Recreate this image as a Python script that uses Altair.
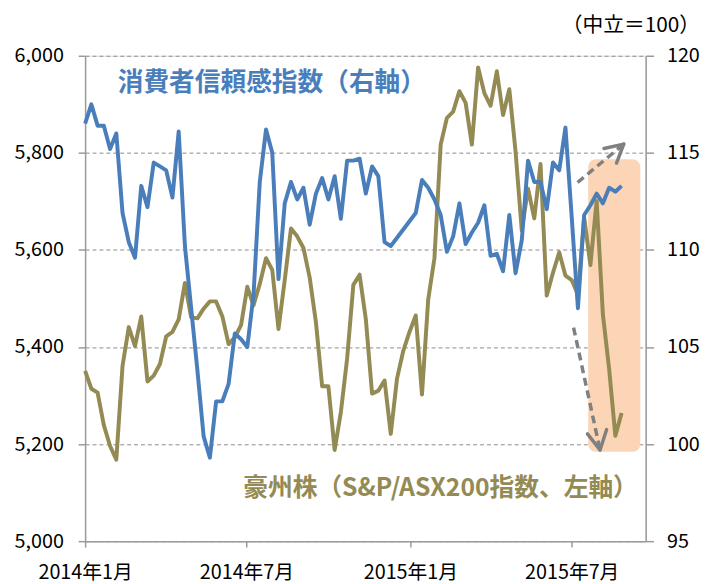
import altair as alt
import pandas as pd

# ---- data (weekly, starting 2014-01-01) ----
week_start = "2014-01-01"
n_weeks = 87

# Consumer confidence index (right axis, neutral = 100); None = no survey (holiday break)
confidence = [116.5, 117.5, 116.4, 116.4, 115.2, 116.0, 111.9, 110.4, 109.6, 113.3,
              112.2, 114.5, 114.3, 114.1, 112.7, 116.1, 110.2, 107.0, 103.8, 100.4,
              99.3, 102.2, 102.2, 103.1, 105.7, 105.4, 105.0, 107.7, 113.5, 116.2,
              115.0, 108.5, 112.4, 113.5, 112.6, 113.2, 111.3, 112.9, 113.7, 112.6,
              113.8, 111.6, 114.6, 114.6, 114.7, 112.9, 114.3, 113.8, 110.4, 110.2,
              None, None, None, 111.9, 113.6, 113.2, 112.6, 111.8, 109.9, 110.7,
              112.4, 110.3, 110.9, 111.4, 112.3, 109.7, 109.8, 108.9, 111.8, 108.8,
              110.5, 114.6, 113.5, 113.5, 112.1, 114.5, 114.1, 116.3, 111.7, 107.0,
              111.8, 112.3, 112.9, 112.4, 113.2, 113.0, 113.3]

# S&P/ASX200 index (left axis)
asx200 = [5351, 5314, 5306, 5239, 5196, 5168, 5361, 5441, 5402, 5463,
          5329, 5341, 5365, 5422, 5431, 5457, 5532, 5461, 5459, 5479,
          5494, 5494, 5463, 5406, 5420, 5445, 5524, 5486, 5530, 5583,
          5559, 5437, 5538, 5644, 5628, 5604, 5543, 5451, 5319, 5319,
          5188, 5266, 5376, 5528, 5549, 5457, 5304, 5310, 5331, 5221,
          5335, 5392, 5431, 5465, 5302, 5498, 5583, 5817, 5872, 5885,
          5927, 5903, 5817, 5976, 5923, 5897, 5968, 5878, 5931, 5803,
          5640, 5726, 5665, 5777, 5506, 5553, 5595, 5547, 5538, 5508,
          5667, 5569, 5701, 5467, 5355, 5217, 5264]

tick_dates = ["2014-01-01", "2014-07-01", "2015-01-01", "2015-07-01"]
tick_labels = ["2014年1月", "2014年7月", "2015年1月", "2015年7月"]
axis_end_date = "2015-09-22"

left_ticks = [5000, 5200, 5400, 5600, 5800, 6000]
right_ticks = [95, 100, 105, 110, 115, 120]

blue_label = "消費者信頼感指数（右軸）"
olive_label = "豪州株（S&P/ASX200指数、左軸）"
unit_label = "（中立＝100）"

# annotations (x in days since start, y in left-axis units)
highlight = {"x0": 564.5, "x1": 623.0, "y0": 5184, "y1": 5787}
arrow_lines = [
    {"x0": 552.6, "y0": 5739, "x1": 604.4, "y1": 5818},
    {"x0": 548.1, "y0": 5440, "x1": 577.8, "y1": 5188},
]
arrow_heads = [
    {"x0": 582.2, "y0": 5809, "x1": 604.4, "y1": 5818},
    {"x0": 596.3, "y0": 5779, "x1": 604.4, "y1": 5818},
    {"x0": 563.7, "y0": 5221, "x1": 577.8, "y1": 5188},
    {"x0": 585.2, "y0": 5230, "x1": 577.8, "y1": 5188},
]

BLUE = "#4a7ebb"
OLIVE = "#948a54"
GRAY = "#9a9a9a"
FONT = "Noto Sans CJK JP"

# ---- build tables ----
start = pd.Timestamp(week_start)
weeks = pd.date_range(week_start, periods=n_weeks, freq="7D")
days = [(d - start).days for d in weeks]
df = pd.DataFrame({"day": days, "confidence": confidence, "asx200": asx200})
df_conf = df.dropna(subset=["confidence"])

tick_days = [(pd.Timestamp(d) - start).days for d in tick_dates]
x_end = (pd.Timestamp(axis_end_date) - start).days
label_expr = " : ".join(
    f"datum.value == {d} ? '{l}'" for d, l in zip(tick_days, tick_labels)
) + " : ''"

x_scale = alt.Scale(domain=[0, x_end], nice=False, zero=False)
x_axis = alt.Axis(values=tick_days, labelExpr=label_expr, title=None, grid=False,
                  domainColor=GRAY, domainWidth=1.5, tickColor=GRAY, tickWidth=1.5,
                  tickSize=6, labelPadding=16, labelFontSize=20, labelFont=FONT,
                  labelColor="#000000", labelFlush=False)
yl_scale = alt.Scale(domain=[5000, 6000], nice=False, zero=False)
yl_axis = alt.Axis(values=left_ticks, format=",d", title=None, grid=True,
                   gridDash=[4, 3], gridColor="#8c8c8c", gridWidth=1,
                   domainColor=GRAY, domainWidth=1.5, tickColor=GRAY, tickWidth=1.5,
                   tickSize=7, labelPadding=15, labelFontSize=20, labelFont=FONT,
                   labelColor="#000000")
yr_axis = alt.Axis(values=right_ticks, orient="right", title=None, grid=False,
                   domainColor=GRAY, domainWidth=1.5, tickColor=GRAY, tickWidth=1.5,
                   tickSize=8, labelPadding=13, labelFontSize=20, labelFont=FONT,
                   labelColor="#000000")


def X(field):
    return alt.X(field, type="quantitative", scale=x_scale, axis=x_axis)


def YL(field):
    return alt.Y(field, type="quantitative", scale=yl_scale, axis=yl_axis)


rect = alt.Chart(pd.DataFrame([highlight])).mark_rect(
    color="#fbd5b5", cornerRadius=8
).encode(x=X("x0"), x2="x1", y=YL("y0"), y2="y1")

olive = alt.Chart(df).mark_line(color=OLIVE, strokeWidth=4, strokeJoin="round").encode(
    x=X("day"), y=YL("asx200")
)

arrows = alt.Chart(pd.DataFrame(arrow_lines)).mark_rule(
    color="#808080", strokeWidth=3.5, strokeDash=[8, 5]
).encode(x=X("x0"), x2="x1", y=YL("y0"), y2="y1")

heads = alt.Chart(pd.DataFrame(arrow_heads)).mark_rule(
    color="#808080", strokeWidth=3.5, strokeCap="round"
).encode(x=X("x0"), x2="x1", y=YL("y0"), y2="y1")

blue_text = alt.Chart(pd.DataFrame({"t": [blue_label]})).mark_text(
    align="left", baseline="middle", fontSize=26, fontWeight="bold", font=FONT, color=BLUE
).encode(text="t:N", x=alt.value(33), y=alt.value(28))

olive_text = alt.Chart(pd.DataFrame({"t": [olive_label]})).mark_text(
    align="left", baseline="middle", fontSize=25, fontWeight="bold", font=FONT, color=OLIVE
).encode(text="t:N", x=alt.value(160), y=alt.value(437))

unit_text = alt.Chart(pd.DataFrame({"t": [unit_label]})).mark_text(
    align="right", baseline="middle", fontSize=21, font=FONT, color="#000000"
).encode(text="t:N", x=alt.value(622), y=alt.value(-30))

left_group = alt.layer(rect, olive, arrows, heads, blue_text, olive_text, unit_text)

blue = alt.Chart(df_conf).mark_line(color=BLUE, strokeWidth=4, strokeJoin="round").encode(
    x=X("day"),
    y=alt.Y("confidence:Q", scale=alt.Scale(domain=[95, 120], nice=False, zero=False),
            axis=yr_axis),
)

chart = alt.layer(left_group, blue).resolve_scale(y="independent").properties(
    width=567, height=491,
    autosize=alt.AutoSizeParams(type="none"),
    padding={"left": 78, "top": 45, "right": 58, "bottom": 40},
).configure_view(stroke=None).configure(background="white")

chart.save("out.html", embed_options={"renderer": "svg", "actions": False})
